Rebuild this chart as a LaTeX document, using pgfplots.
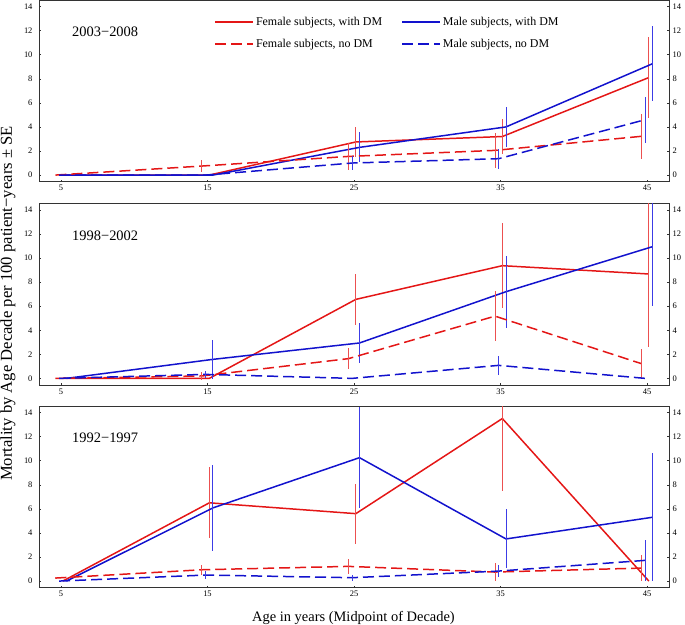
\documentclass[border=0pt]{standalone}
\usepackage{pgfplots}
\pgfplotsset{compat=1.18}
\usepackage{fontspec}
\setmainfont{Liberation Serif}
\definecolor{myred}{RGB}{228,22,22}
\definecolor{myblue}{RGB}{18,18,205}
\definecolor{ebred}{RGB}{236,80,80}
\definecolor{ebblue}{RGB}{60,60,230}
\tikzset{plab/.style={anchor=west, inner sep=0pt, font=\fontsize{14.5}{16}\selectfont}}
\pgfplotsset{
  panel/.style={scale only axis, width=630bp, height=181.2bp,
    xmin=3.5, xmax=46.5, ymin=-0.55, ymax=14.5,
    xtick={5,15,25,35,45}, ytick={0,2,...,14},
    tick align=inside, major tick length=2bp,
    xtick pos=left, ytick pos=both, yticklabel pos=left,
    tick style={black!80, line width=0.5pt},
    tick label style={font=\fontsize{8.5}{10}\selectfont},
    yticklabel style={xshift=-3bp},
    /pgf/number format/assume math mode=true,
    axis line style={line width=0.8pt, black!80},
  },
  rpanel/.style={scale only axis, width=630bp, height=181.2bp,
    xmin=3.5, xmax=46.5, ymin=-0.55, ymax=14.5,
    axis y line*=right, axis x line=none, ytick={0,2,...,14},
    tick align=inside, major tick length=2bp,
    tick style={black!80, line width=0.5pt},
    tick label style={font=\fontsize{8.5}{10}\selectfont},
    /pgf/number format/assume math mode=true,
    axis line style={line width=0.8pt, black!80},
  },
  ebars/.style={/pgfplots/error bars/y dir=both, /pgfplots/error bars/y explicit,
    /pgfplots/error bars/error mark=none,
    /pgfplots/error bars/error bar style={line width=1pt, solid, #1}},
  serFD/.style={forget plot, color=myred, line width=1.5pt, mark=none, ebars={ebred}},
  serMD/.style={forget plot, color=myblue, line width=1.5pt, mark=none, ebars={ebblue}},
  serFN/.style={forget plot, color=myred, line width=1.5pt, mark=none, dash pattern=on 11bp off 5bp, ebars={ebred}},
  serMN/.style={forget plot, color=myblue, line width=1.5pt, mark=none, dash pattern=on 11bp off 5bp, ebars={ebblue}},
}
\begin{document}
\begin{tikzpicture}
\useasboundingbox (0,0) rectangle (685bp,625bp);
% ---------------- top panel 2003-2008
\begin{axis}[panel, at={(39bp,443.3bp)}, anchor=south west,
  legend columns=2, legend cell align=left,
  legend image code/.code={\draw[#1] (0bp,0bp) -- (38bp,0bp);},
  legend style={at={(axis description cs:0.2778,0.921)}, anchor=north west,
    draw=none, fill=none, inner sep=0pt, row sep=8.5bp,
    /tikz/every even column/.append style={column sep=17bp},
    font=\fontsize{12}{14}\selectfont}]
\addlegendimage{draw=myred, line width=1.8pt}
\addlegendentry{Female subjects, with DM}
\addlegendimage{draw=myblue, line width=1.8pt}
\addlegendentry{Male subjects, with DM}
\addlegendimage{draw=myred, line width=1.6pt, dash pattern=on 11bp off 5bp}
\addlegendentry{Female subjects, no DM}
\addlegendimage{draw=myblue, line width=1.6pt, dash pattern=on 11bp off 5bp}
\addlegendentry{Male subjects, no DM}
\addplot[serFD] coordinates {(5.125,0) +- (0,0) (15.125,0) +- (0,0) (25.125,2.75) +- (0,1.25) (35.125,3.2) +- (0,1.45) (45.125,8.1) +- (0,3.35)};
\addplot[serMD] coordinates {(5.375,0) +- (0,0) (15.375,0) +- (0,0) (25.375,2.3) +- (0,1.25) (35.375,4.0) +- (0,1.67) (45.375,9.25) +- (0,3.1)};
\addplot[serFN] coordinates {(4.625,0) +- (0,0) (14.625,0.75) +- (0,0.5) (24.625,1.55) +- (0,1.15) (34.625,2.05) +- (0,1.45) (44.625,3.22) +- (0,1.85)};
\addplot[serMN] coordinates {(4.875,0) +- (0,0) (14.875,0) +- (0,0) (24.875,1.0) +- (0,0.6) (34.875,1.36) +- (0,0.83) (44.875,4.6) +- (0,1.9)};
\node[plab] at (rel axis cs:0.0524,0.826) {2003−2008};
\end{axis}
\begin{axis}[rpanel, at={(39bp,443.3bp)}, anchor=south west]
\end{axis}
% ---------------- middle panel 1998-2002
\begin{axis}[panel, at={(39bp,240bp)}, anchor=south west]
\addplot[serFD] coordinates {(5.125,0) +- (0,0) (15.125,0) +- (0,0) (25.125,6.56) +- (0,2.1) (35.125,9.36) +- (0,3.55) (45.125,8.67) +- (0,6.1)};
\addplot[serMD] coordinates {(5.375,0) +- (0,0) (15.375,1.58) +- (0,1.6) (25.375,2.94) +- (0,1.7) (35.375,7.2) +- (0,3.0) (45.375,10.94) +- (0,4.9)};
\addplot[serFN] coordinates {(4.625,0) +- (0,0) (14.625,0.2) +- (0,0.3) (24.625,1.64) +- (0,0.85) (34.625,5.17) +- (0,2.1) (44.625,1.22) +- (0,1.22)};
\addplot[serMN] coordinates {(4.875,0) +- (0,0) (14.875,0.33) +- (0,0.3) (24.875,0) +- (0,0) (34.875,1.08) +- (0,0.8) (44.875,0) +- (0,0)};
\node[plab] at (rel axis cs:0.0524,0.826) {1998−2002};
\end{axis}
\begin{axis}[rpanel, at={(39bp,240bp)}, anchor=south west]
\end{axis}
% ---------------- bottom panel 1992-1997
\begin{axis}[panel, at={(39bp,37.3bp)}, anchor=south west]
\addplot[serFD] coordinates {(5.125,0) +- (0,0) (15.125,6.5) +- (0,2.95) (25.125,5.6) +- (0,2.5) (35.125,13.5) +- (0,6.0) (45.125,0) +- (0,0)};
\addplot[serMD] coordinates {(5.375,0) +- (0,0) (15.375,6.08) +- (0,3.6) (25.375,10.25) +- (0,4.2) (35.375,3.5) +- (0,2.45) (45.375,5.3) +- (0,5.3)};
\addplot[serFN] coordinates {(4.625,0.25) +- (0,0.1) (14.625,0.94) +- (0,0.4) (24.625,1.22) +- (0,0.6) (34.625,0.75) +- (0,0.75) (44.625,1.08) +- (0,1.05)};
\addplot[serMN] coordinates {(4.875,0) +- (0,0) (14.875,0.5) +- (0,0.3) (24.875,0.28) +- (0,0.25) (34.875,0.83) +- (0,0.5) (44.875,1.72) +- (0,1.7)};
\node[plab] at (rel axis cs:0.0524,0.826) {1992−1997};
\end{axis}
\begin{axis}[rpanel, at={(39bp,37.3bp)}, anchor=south west]
\end{axis}
% ---------------- axis titles
\node[rotate=90, font=\fontsize{16.7}{18}\selectfont] at (8bp,321.5bp) {Mortality by Age Decade per 100 patient−years ± SE};
\node[font=\fontsize{14.5}{16}\selectfont] at (353.5bp,7bp) {Age in years (Midpoint of Decade)};
\end{tikzpicture}
\end{document}
